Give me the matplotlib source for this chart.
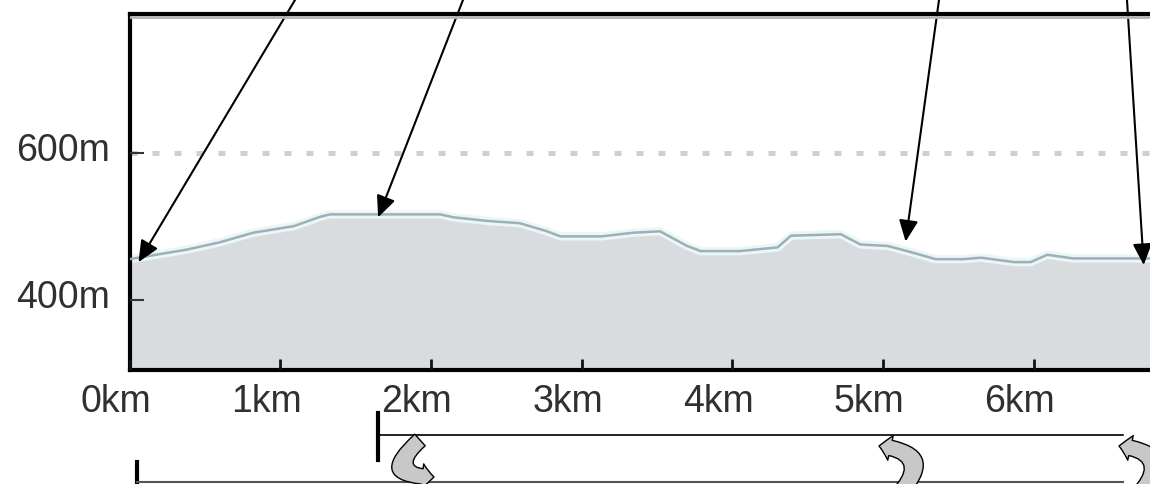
import matplotlib
matplotlib.use("Agg")
import matplotlib.pyplot as plt
import matplotlib.transforms as mtransforms
from matplotlib.patches import FancyArrowPatch
from matplotlib.lines import Line2D

# elevation profile (distance in km, elevation in m)
dist_km = [0.00, 0.38, 0.60, 0.82, 1.09, 1.27, 1.33, 2.06, 2.15, 2.38, 2.59, 2.77,
           2.86, 3.13, 3.34, 3.52, 3.70, 3.79, 4.05, 4.30, 4.39, 4.72, 4.85, 5.03,
           5.16, 5.35, 5.53, 5.65, 5.87, 5.98, 6.09, 6.26, 6.78]
elev_m = [456, 469, 479, 492, 501, 514, 517, 517, 513, 508, 505, 494,
          487, 487, 492, 494, 474, 467, 467, 472, 488, 490, 476, 474,
          467, 456, 456, 458, 452, 452, 462, 457, 457]

x_ticks = [0, 1, 2, 3, 4, 5, 6]
x_labels = ["0km", "1km", "2km", "3km", "4km", "5km", "6km"]
y_ticks = [400, 600]
y_labels = ["400m", "600m"]

# points picked out by the arrows coming from above (km, m)
pointer_km = [0.06, 1.65, 5.15, 6.73]
pointer_m = [452, 513, 480, 448]
pointer_from_x = [295, 463, 939, 1127]   # pixel x where each arrow enters at the top

# route segments drawn under the axis (km)
upper_seg = (1.65, 6.59)
lower_seg = (0.05, 6.59)

W, H = 1150, 484
left_px, right_px = 129.5, 1162
fig = plt.figure(figsize=(W / 100, H / 100), dpi=100)
ax = fig.add_axes([left_px / W, 1 - 370 / H, (right_px - left_px) / W, (370 - 14) / H])

ax.set_xlim(0, (right_px - left_px) / 150.7)
ax.set_ylim(305, 790)

# gridlines
ax.axhline(600, color="#cfcfcf", lw=3.6, ls=(0, (1.4, 3.0)), zorder=1)
ax.axhline(400, color="#cfcfcf", lw=3.6, ls=(0, (1.4, 3.0)), zorder=1)

# profile
ax.fill_between(dist_km, elev_m, 0, color="#d8dcdf", lw=0, zorder=2)
ax.plot(dist_km, elev_m, color="#eaf6f8", lw=6, zorder=2.5, solid_capstyle="butt")
ax.plot(dist_km, elev_m, color="#9db0b5", lw=1.8, zorder=3)

# spines
for side in ["left", "top", "bottom"]:
    ax.spines[side].set_linewidth(3)
    ax.spines[side].set_color("black")
ax.spines["right"].set_visible(False)
ax.add_line(Line2D([0, 1], [0.992, 0.992], transform=ax.transAxes,
                   color="#b4b4b4", lw=2, zorder=4))

# ticks
ax.set_axisbelow(False)
ax.set_xticks(x_ticks)
ax.set_xticklabels(x_labels)
ax.set_yticks(y_ticks)
ax.set_yticklabels(y_labels)
ax.tick_params(axis="x", direction="in", length=8, width=2, color="#111111",
               pad=10, labelsize=27, labelcolor="#303030")
ax.tick_params(axis="y", direction="in", length=10, width=1.5, color="#333333",
               pad=14, labelsize=27, labelcolor="#303030")
for lab in ax.get_xticklabels():
    lab.set_family("Liberation Sans")
    lab.set_transform(lab.get_transform() + mtransforms.ScaledTranslation(-14 / 100, 0, fig.dpi_scale_trans))
for lab in ax.get_yticklabels():
    lab.set_family("Liberation Sans")
    lab.set_transform(lab.get_transform() + mtransforms.ScaledTranslation(0, 6 / 100, fig.dpi_scale_trans))

# pointer arrows from above the chart
for km, m, fx in zip(pointer_km, pointer_m, pointer_from_x):
    ax.annotate("", xy=(km, m), xycoords="data",
                xytext=(fx / W, 1.0), textcoords="figure fraction",
                arrowprops=dict(arrowstyle="-|>,head_length=1.0,head_width=0.45",
                                mutation_scale=13, color="black", lw=1.5,
                                shrinkA=0, shrinkB=0),
                annotation_clip=False)

# route brackets below the axis
blend = mtransforms.blended_transform_factory(ax.transData, fig.transFigure)


def fy(py):
    return 1 - py / H


ax.add_line(Line2D([upper_seg[0], upper_seg[0]], [fy(413), fy(460)], transform=blend,
                   color="black", lw=3, clip_on=False))
ax.add_line(Line2D([upper_seg[0], upper_seg[1]], [fy(435), fy(435)], transform=blend,
                   color="black", lw=1.2, clip_on=False))
ax.add_line(Line2D([lower_seg[0], lower_seg[0]], [fy(462), fy(490)], transform=blend,
                   color="black", lw=3, clip_on=False))
ax.add_line(Line2D([lower_seg[0], lower_seg[1]], [fy(482), fy(482)], transform=blend,
                   color="#555555", lw=1.5, clip_on=False))

# u-turn arrows between the two segments
turns = [((420, 440), (434, 477), 1.3),
         ((897, 496), (879, 446), 1.0),
         ((1137, 496), (1119, 446), 1.0)]
for (ax0, ay0), (bx0, by0), rad in turns:
    arr = FancyArrowPatch((ax0 / W, fy(ay0)), (bx0 / W, fy(by0)),
                          transform=fig.transFigure,
                          connectionstyle=f"arc3,rad={rad}",
                          arrowstyle="simple,head_length=0.6,head_width=1.3,tail_width=0.8",
                          mutation_scale=14, facecolor="#c8c8c8", edgecolor="black",
                          lw=1.0, shrinkA=0, shrinkB=0)
    fig.add_artist(arr)

fig.savefig("out.png", dpi=100)
